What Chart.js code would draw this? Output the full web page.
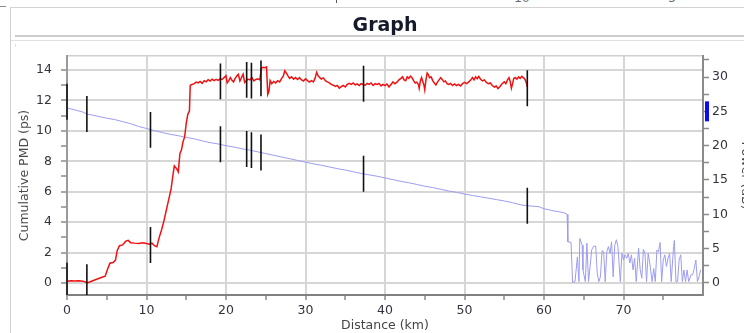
<!DOCTYPE html>
<html><head><meta charset="utf-8">
<script src="https://cdn.jsdelivr.net/npm/chart.js@4/dist/chart.umd.min.js"></script>
<style>
html,body{margin:0;padding:0;background:#fff;width:744px;height:333px;overflow:hidden;position:relative;font-family:'DejaVu Sans',sans-serif;}
.ln{position:absolute;}
#wrap{position:absolute;left:0;top:0;width:760px;height:333px;z-index:2;}
#title{position:absolute;left:285px;top:13px;width:200px;text-align:center;font:bold 19px/22px 'DejaVu Sans',sans-serif;color:#141a2a;z-index:3;}
.frag{position:absolute;top:-9px;font:12px/14px 'DejaVu Sans',sans-serif;color:#666;}
</style></head><body>
<div class="ln" style="left:0;top:6px;width:6px;height:1px;background:#888"></div>
<div class="ln" style="left:10px;top:7px;width:1px;height:326px;background:#cfcfcf"></div>
<div class="ln" style="left:10px;top:7px;width:734px;height:1px;background:#d2d2d2"></div>
<div class="ln" style="left:15px;top:35px;width:729px;height:2px;background:#cdcdcd"></div>
<div class="ln" style="left:11px;top:40px;width:733px;height:1px;background:#e0e0e0"></div>
<div class="ln" style="left:15px;top:44px;width:1px;height:3px;background:#e0e0e0"></div>
<div class="ln" style="left:336px;top:0;width:1px;height:3px;background:#555"></div>
<span class="frag" style="left:510px">-10</span>
<span class="frag" style="left:664px">-5</span>
<div id="title">Graph</div>
<div id="wrap"><canvas id="c" width="760" height="333"></canvas></div>
<script>
// Cumulative PMD trace (red, left axis)
const pmdKm = [0.0,0.5,1.0,1.5,2.0,2.4,2.6,3.0,3.4,3.9,4.4,4.8,5.1,5.4,5.8,6.1,6.3,6.6,7.0,7.4,7.7,8.0,8.5,9.0,9.5,10.0,10.4,10.7,11.0,11.3,11.6,11.9,12.2,12.5,12.8,13.1,13.3,13.5,13.8,14.0,14.2,14.4,14.6,14.8,15.0,15.2,15.4,
15.5,15.75,16.0,16.25,16.5,16.75,17.0,17.25,17.5,17.75,18.0,18.25,18.5,18.75,19.0,19.25,19.5,19.75,20.0,20.15,20.35,20.55,20.75,20.95,21.15,21.35,21.55,21.75,21.95,22.15,22.35,22.55,22.75,23.0,23.25,23.5,23.75,24.0,24.25,24.45,24.65,24.9,25.1,25.25,25.4,25.55,25.75,26.0,26.25,26.5,26.75,27.0,27.2,27.4,27.6,27.8,28.0,28.25,28.5,28.75,29.0,29.25,29.5,29.75,30.0,30.25,30.5,30.75,31.0,31.2,31.4,31.6,31.8,32.0,32.25,32.5,32.75,33.0,33.25,33.5,33.75,34.0,34.25,34.5,34.75,35.0,35.25,35.5,35.75,36.0,36.25,36.5,36.75,37.0,37.25,37.5,37.75,38.0,38.25,38.5,38.75,39.0,39.25,39.5,39.75,40.0,40.25,40.5,40.75,41.0,41.25,41.5,41.75,42.0,42.2,42.4,42.6,42.8,43.0,43.2,43.4,43.6,43.8,44.0,44.2,44.3,44.45,44.6,44.75,44.9,45.0,45.15,45.3,45.45,45.6,45.8,46.0,46.2,46.4,46.6,46.8,47.0,47.2,47.4,47.6,47.8,48.0,48.25,48.5,48.75,49.0,49.25,49.5,49.75,50.0,50.25,50.5,50.75,51.0,51.2,51.4,51.6,51.8,52.0,52.25,52.5,52.75,53.0,53.25,53.5,53.75,54.0,54.2,54.45,54.7,55.0,55.2,55.4,55.6,55.75,55.9,56.05,56.2,56.4,56.6,56.8,57.0,57.2,57.4,57.6,57.75,57.9];
const pmdPs = [0.12,0.14,0.13,0.15,0.12,0.05,0.02,0.1,0.18,0.28,0.38,0.45,0.9,1.3,1.35,1.5,2.1,2.45,2.5,2.75,2.8,2.65,2.62,2.6,2.65,2.6,2.55,2.62,2.45,2.38,3.0,3.5,4.1,4.8,5.5,6.2,7.0,7.7,7.5,7.3,8.5,8.75,9.3,9.6,10.5,11.1,11.3,
13.0,13.05,13.1,13.2,13.15,13.25,13.12,13.3,13.22,13.36,13.28,13.4,13.3,13.38,13.32,13.42,13.38,13.5,13.62,13.15,13.3,13.5,13.32,13.22,13.45,13.6,13.72,13.28,13.5,13.72,13.18,13.3,13.4,13.35,13.5,13.28,13.38,13.42,13.35,14.1,14.18,14.15,14.2,12.4,12.6,13.3,13.1,13.25,13.15,13.3,13.22,13.45,13.6,13.95,13.8,13.62,13.45,13.55,13.4,13.5,13.38,13.5,13.35,13.28,13.42,13.3,13.2,13.3,13.22,13.45,13.85,13.6,13.5,13.4,13.48,13.3,13.22,13.15,13.05,13.0,12.92,12.98,12.8,12.9,12.98,12.88,13.05,13.12,13.05,13.15,13.02,13.08,12.98,13.1,13.05,13.0,13.12,13.05,13.15,12.98,13.1,13.05,13.12,12.95,13.05,12.98,13.08,12.88,13.05,13.22,13.1,13.2,13.35,13.45,13.55,13.35,13.3,13.55,13.45,13.6,13.5,13.3,13.15,13.2,13.05,12.8,13.3,13.5,13.25,13.0,12.7,13.35,13.8,13.7,13.5,13.55,13.3,13.15,13.02,13.2,13.35,13.5,13.38,13.22,13.28,13.1,13.05,13.12,12.98,13.08,12.98,13.05,12.95,13.1,13.18,13.1,13.2,13.32,13.5,13.35,13.55,13.42,13.58,13.4,13.28,13.35,13.18,13.1,13.15,12.98,12.88,12.95,12.78,12.9,13.08,13.22,13.1,13.35,13.5,13.25,12.8,13.1,13.45,13.5,13.4,13.55,13.45,13.58,13.5,13.4,13.2,12.9];

// Power trace (blue, right axis)
const powerKm = [0,1,2,2.5,3,4,5,6,7,8,9,10,11,12,13,14,15,16,17,18,19,20,21,22,23,24,25,26,27,28,29,30,31,32,33,34,35,36,37,38,39,40,41,42,43,44,45,46,47,48,49,50,51,52,53,54,55,56,57,57.9,58.5,59.4,60,60.5,61,61.5,62,62.6,62.9,63.0,63.4,63.6,63.9,64.2,64.4,64.5,64.8,64.9,65.2,65.4,65.6,65.8,66.0,66.2,66.5,66.7,66.9,67.1,67.3,67.5,67.7,67.9,68.1,68.3,68.5,68.7,68.9,69.1,69.3,69.6,69.8,70.0,70.2,70.4,70.6,70.8,71.0,71.2,71.4,71.6,71.9,72.1,72.3,72.5,72.7,72.9,73.1,73.3,73.6,73.8,74.0,74.2,74.4,74.6,74.8,75.0,75.2,75.4,75.6,75.8,76.0,76.3,76.4,76.6,76.8,77.0,77.2,77.4,77.6,77.8,78.0,78.2,78.5,78.7,78.9,79.1,79.3,79.5,79.7];
const powerDb = [25.5,25.2,24.9,24.6,24.5,24.25,24.0,23.8,23.5,23.2,22.8,22.5,22.2,21.9,21.65,21.45,21.2,21.0,20.7,20.45,20.25,20.0,19.8,19.55,19.35,19.1,18.85,18.6,18.35,18.1,17.85,17.6,17.35,17.15,16.9,16.65,16.45,16.2,15.95,15.75,15.55,15.3,15.05,14.8,14.6,14.35,14.1,13.9,13.65,13.4,13.2,12.95,12.75,12.55,12.35,12.15,11.95,11.7,11.4,11.25,11.2,11.1,10.8,10.7,10.55,10.45,10.35,10.2,10.0,6.0,5.9,0.1,0.2,3.8,0.2,6.5,5.5,1.9,0.2,5.8,0.2,2.4,4.8,5.3,5.4,1.4,0.2,0.9,4.7,4.55,0.2,4.55,5.3,4.3,6.0,0.9,5.5,6.3,5.3,0.2,4.3,3.35,4.1,3.6,4.3,2.9,4.1,1.9,3.6,0.2,5.05,1.9,0.7,4.9,4.3,0.2,4.3,2.9,0.2,2.1,0.2,4.8,4.55,5.9,0.2,3.35,4.1,2.4,3.6,4.3,0.2,5.3,6.2,0.2,0.2,3.35,4.1,0.2,1.9,0.2,1.9,0.2,1.2,1.2,2.1,3.35,0.2,0.9,1.9];

// Event markers
const eventKm = [0, 2.5, 10.5, 19.3, 22.6, 23.2, 24.4, 37.3, 57.9];
const eventPmd = [0.15, 0.05, 2.5, 13.25, 13.35, 13.3, 13.45, 13.1, 12.8];
const eventPower = [26.4, 24.6, 22.3, 20.2, 19.5, 19.35, 19.0, 15.9, 11.25];

// Axis ticks
const xTicks = [0,5,10,15,20,25,30,35,40,45,50,55,60,65,70,75];
const xLabelTicks = [0,10,20,30,40,50,60,70];
const pmdTicks = [0,1,2,3,4,5,6,7,8,9,10,11,12,13,14];
const pmdLabelTicks = [0,2,4,6,8,10,12,14];
const powerTicks = [0,2.5,5,7.5,10,12.5,15,17.5,20,22.5,25,27.5,30,32.5];
const powerLabelTicks = [0,5,10,15,20,25,30];
const cursorPower = 25;

const PMD_HALF = 1.18, POW_HALF = 2.62;
function segs(xs, ys, half) {
  const out = [];
  xs.forEach((x, i) => { out.push({x, y: ys[i] - half}, {x, y: ys[i] + half}, {x, y: null}); });
  return out;
}
const FONT = {family: "'DejaVu Sans', sans-serif", size: 12.5};
const TICKCOL = '#333340';

const cursorPlugin = {
  id: 'cursor',
  afterDraw(chart) {
    const s = chart.scales.y1, ctx = chart.ctx;
    const yc = s.getPixelForValue(cursorPower);
    ctx.save();
    ctx.fillStyle = '#0b0bf5';
    ctx.fillRect(chart.chartArea.right + 2, yc - 10, 4, 20);
    ctx.restore();
  }
};

new Chart(document.getElementById('c'), {
  type: 'line',
  data: {
    datasets: [
      {label: 'ev1', data: segs(eventKm, eventPmd, PMD_HALF), yAxisID: 'y', borderColor: '#111', borderWidth: 1.6, pointRadius: 0, spanGaps: false, order: 0, clip: {left: 3, top: 0, right: 0, bottom: 0}},
      {label: 'ev2', data: segs(eventKm, eventPower, POW_HALF), yAxisID: 'y1', borderColor: '#111', borderWidth: 1.6, pointRadius: 0, spanGaps: false, order: 0, clip: {left: 3, top: 0, right: 0, bottom: 0}},
      {label: 'PMD', data: pmdKm.map((x, i) => ({x, y: pmdPs[i]})), yAxisID: 'y', borderColor: '#ee1212', borderWidth: 1.5, pointRadius: 0, tension: 0, order: 1},
      {label: 'Power', data: powerKm.map((x, i) => ({x, y: powerDb[i]})), yAxisID: 'y1', borderColor: '#9c9cf2', borderWidth: 1, pointRadius: 0, tension: 0, order: 2}
    ]
  },
  options: {
    responsive: false, animation: false, devicePixelRatio: 1,
    layout: {padding: {left: 10, top: 56, right: 0, bottom: 0}},
    plugins: {legend: {display: false}, tooltip: {enabled: false}, title: {display: false}},
    scales: {
      x: {
        type: 'linear', position: 'bottom', min: 0, max: 80,
        afterBuildTicks: s => { s.ticks = xTicks.map(v => ({value: v})); },
        afterFit: s => { s.height = 38; },
        ticks: {autoSkip: false, maxRotation: 0, padding: 3, font: FONT, color: TICKCOL,
          callback: v => xLabelTicks.includes(v) ? String(v) : ''},
        grid: {color: c => (c.tick && xLabelTicks.includes(c.tick.value) && c.tick.value !== 0) ? '#d6d6d6' : 'rgba(0,0,0,0)',
          lineWidth: 2, tickColor: '#8a8a8a', tickLength: 5, tickWidth: 1.5},
        border: {display: true, color: '#808080', width: 2},
        title: {display: true, text: 'Distance (km)', font: FONT, color: '#444', padding: {top: 0, bottom: 0}}
      },
      x2: {
        type: 'linear', position: 'top', min: 0, max: 80,
        afterFit: s => { s.height = 0; },
        ticks: {display: false}, grid: {display: false},
        border: {display: true, color: '#cfcfcf', width: 1.5}
      },
      y: {
        type: 'linear', position: 'left', min: -0.79, max: 14.92,
        afterBuildTicks: s => { s.ticks = pmdTicks.map(v => ({value: v})); },
        afterFit: s => { s.width = 57; },
        ticks: {autoSkip: false, padding: 9, font: FONT, color: TICKCOL,
          callback: v => pmdLabelTicks.includes(v) ? String(v) : ''},
        grid: {color: c => (c.tick && pmdLabelTicks.includes(c.tick.value)) ? '#d6d6d6' : 'rgba(0,0,0,0)',
          lineWidth: 2, tickColor: '#8a8a8a', tickLength: 6, tickWidth: 1.5},
        border: {display: true, color: '#9a9a9a', width: 2},
        title: {display: true, text: 'Cumulative PMD (ps)', font: FONT, color: '#4a4a4a', padding: {top: 7, bottom: 0}}
      },
      y1: {
        type: 'linear', position: 'right', min: -1.75, max: 33.06,
        afterBuildTicks: s => { s.ticks = powerTicks.map(v => ({value: v})); },
        afterFit: s => { s.width = 57; },
        ticks: {autoSkip: false, padding: 3, font: FONT, color: TICKCOL,
          callback: v => powerLabelTicks.includes(v) ? String(v) : ''},
        grid: {drawOnChartArea: false, color: 'rgba(0,0,0,0)', tickColor: '#8a8a8a', tickLength: 6, tickWidth: 1.5},
        border: {display: true, color: '#8a8a8a', width: 2},
        title: {display: true, text: 'Power (dB)', font: FONT, color: '#4a4a4a', padding: {top: 7.5, bottom: 0}}
      }
    }
  },
  plugins: [cursorPlugin]
});
</script>
</body></html>
